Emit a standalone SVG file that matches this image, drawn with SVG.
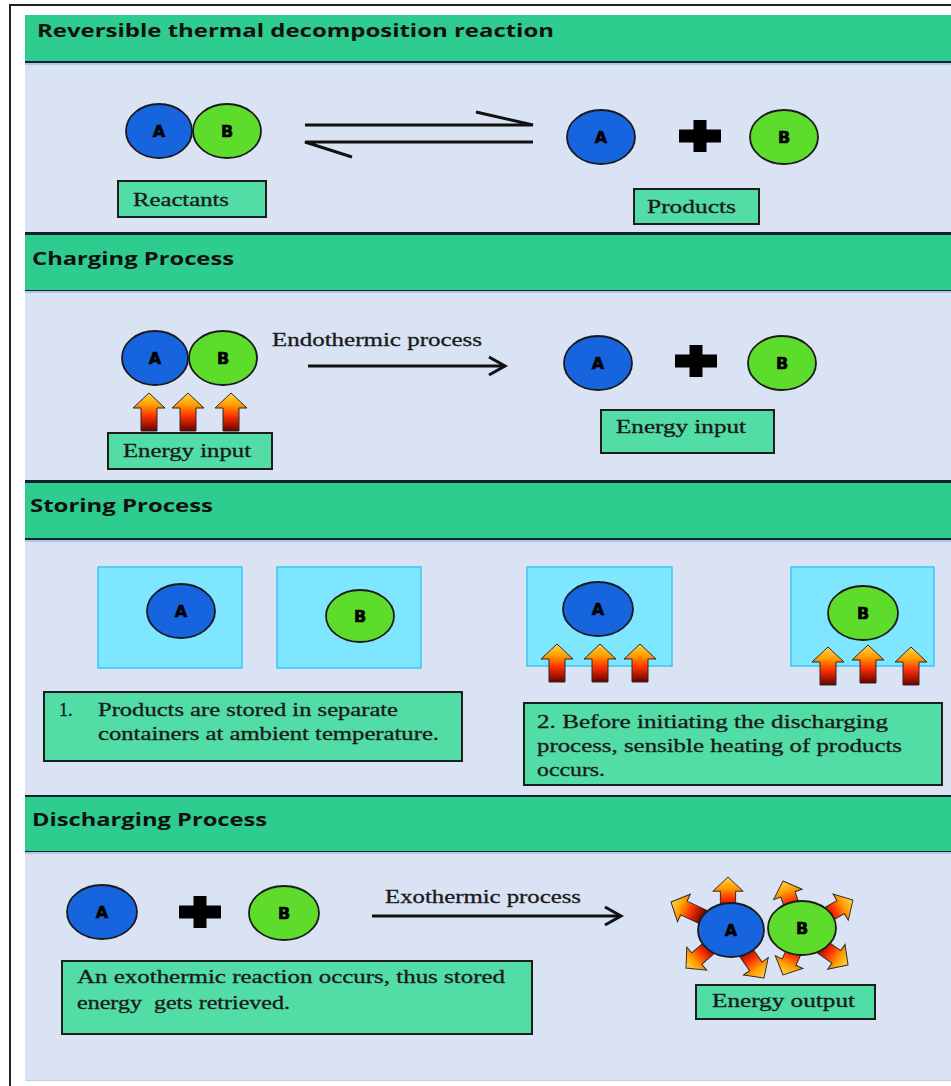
<svg xmlns="http://www.w3.org/2000/svg" width="951" height="1086" viewBox="0 0 951 1086">
<style>
.hdr{fill:#2ecc8e}
.panel{fill:#dae3f3}
.hline{fill:#0f2330}
.lline{fill:#b3c5e6}
.box{fill:#52dca6;stroke:#1d1d1d;stroke-width:2}
.ca{fill:#1764df;stroke:#1a1a1a;stroke-width:1.8}
.cb{fill:#5edc2c;stroke:#1a1a1a;stroke-width:1.8}
.lbl{font-family:"DejaVu Sans","Liberation Sans",sans-serif;font-weight:bold;font-size:16px;text-anchor:middle;fill:#000;stroke:#000;stroke-width:0.6}
.ht{font-family:"Open Sans","Liberation Sans",sans-serif;font-weight:bold;font-size:18px;fill:#111}
.st{font-family:"Liberation Serif","Times New Roman",serif;font-size:18px;fill:#1a1a1a;stroke:#1a1a1a;stroke-width:0.3}
.cont{fill:#7fe6ff;stroke:#3cc5f5;stroke-width:1.5}
.conn{stroke:#111;stroke-width:3;fill:none}
</style>
<defs>
<linearGradient id="fire" x1="0" y1="0" x2="0" y2="1">
<stop offset="0" stop-color="#ffd54a"/>
<stop offset="0.3" stop-color="#ffa000"/>
<stop offset="0.6" stop-color="#ff3300"/>
<stop offset="1" stop-color="#6a0000"/>
</linearGradient>
<path id="earrow" d="M0,0 L16,15 L8,15 L8,38 L-8,38 L-8,15 L-16,15 Z" fill="url(#fire)" stroke="#2a2a2a" stroke-width="1"/>
<path id="plus" d="M-6.5,-16 H6.5 V-6.5 H21 V6.5 H6.5 V16 H-6.5 V6.5 H-21 V-6.5 H-6.5 Z"/>
</defs>

<rect x="10" y="5" width="960" height="1100" fill="#fff" stroke="#222" stroke-width="2"/>

<g id="section1">
<rect class="hdr" x="25" y="15" width="930" height="46"/>
<rect class="hline" x="25" y="61" width="930" height="2"/>
<rect class="panel" x="25" y="63" width="930" height="170"/>
<rect class="lline" x="25" y="63" width="930" height="2"/>
<text class="ht" x="37" y="37" textLength="517" lengthAdjust="spacingAndGlyphs">Reversible thermal decomposition reaction</text>
</g>
<g id="section2">
<rect class="hline" x="25" y="232" width="930" height="3"/>
<rect class="hdr" x="25" y="235" width="930" height="56"/>
<rect class="hline" x="25" y="290" width="930" height="1"/>
<rect class="panel" x="25" y="291" width="930" height="190"/>
<rect class="lline" x="25" y="291" width="930" height="2"/>
<text class="ht" x="32" y="265" textLength="202" lengthAdjust="spacingAndGlyphs">Charging Process</text>
</g>
<g id="section3">
<rect class="hline" x="25" y="480" width="930" height="3"/>
<rect class="hdr" x="25" y="483" width="930" height="55"/>
<rect class="hline" x="25" y="538" width="930" height="2"/>
<rect class="panel" x="25" y="540" width="930" height="255"/>
<rect class="lline" x="25" y="540" width="930" height="2"/>
<text class="ht" x="30" y="512" textLength="183" lengthAdjust="spacingAndGlyphs">Storing Process</text>
</g>
<g id="section4">
<rect class="hline" x="25" y="795" width="930" height="2"/>
<rect class="hdr" x="25" y="797" width="930" height="55"/>
<rect class="hline" x="25" y="851" width="930" height="1"/>
<rect class="panel" x="25" y="852" width="930" height="228"/>
<rect class="lline" x="25" y="852" width="930" height="2"/>
<rect x="25" y="1080" width="930" height="1" fill="#c3cde0"/>
<text class="ht" x="32" y="826" textLength="235" lengthAdjust="spacingAndGlyphs">Discharging Process</text>
</g>

<g id="reactants-AB">
<ellipse class="ca" cx="159" cy="131" rx="33" ry="27"/>
<ellipse class="cb" cx="227" cy="131" rx="34" ry="27"/>
<text class="lbl" x="159" y="137">A</text>
<text class="lbl" x="227" y="137">B</text>
</g>
<g id="reactants-label">
<rect class="box" x="118" y="181" width="148" height="36"/>
<text class="st" x="133" y="206" textLength="96" lengthAdjust="spacingAndGlyphs">Reactants</text>
</g>
<g id="products1">
<ellipse class="ca" cx="601" cy="137" rx="34" ry="27"/>
<text class="lbl" x="601" y="143">A</text>
<use href="#plus" x="700" y="136"/>
<ellipse class="cb" cx="784" cy="137" rx="34" ry="27"/>
<text class="lbl" x="784" y="143">B</text>
</g>
<g id="products-label">
<rect class="box" x="634" y="189" width="125" height="35"/>
<text class="st" x="647" y="213" textLength="89" lengthAdjust="spacingAndGlyphs">Products</text>
</g>

<g id="charge-AB">
<ellipse class="ca" cx="155" cy="358" rx="33" ry="27"/>
<ellipse class="cb" cx="223" cy="358" rx="34" ry="27"/>
<text class="lbl" x="155" y="364">A</text>
<text class="lbl" x="223" y="364">B</text>
</g>
<g id="charge-heat">
<use href="#earrow" x="149" y="393"/>
<use href="#earrow" x="188" y="393"/>
<use href="#earrow" x="231" y="393"/>
</g>
<g id="charge-label">
<rect class="box" x="108" y="433" width="164" height="36"/>
<text class="st" x="123" y="457" textLength="128" lengthAdjust="spacingAndGlyphs">Energy input</text>
</g>
<g id="charge-products">
<ellipse class="ca" cx="598" cy="363" rx="34" ry="27"/>
<text class="lbl" x="598" y="369">A</text>
<use href="#plus" x="696" y="361"/>
<ellipse class="cb" cx="782" cy="363" rx="34" ry="27"/>
<text class="lbl" x="782" y="369">B</text>
</g>
<g id="charge-label2">
<rect class="box" x="601" y="410" width="173" height="43"/>
<text class="st" x="616" y="433" textLength="130" lengthAdjust="spacingAndGlyphs">Energy input</text>
</g>

<g id="store-A">
<rect class="cont" x="98" y="567" width="144" height="101"/>
<ellipse class="ca" cx="181" cy="611" rx="34" ry="27"/>
<text class="lbl" x="181" y="617">A</text>
</g>
<g id="store-B">
<rect class="cont" x="277" y="567" width="144" height="101"/>
<ellipse class="cb" cx="360" cy="616" rx="34" ry="26"/>
<text class="lbl" x="360" y="622">B</text>
</g>
<g id="store-note1">
<rect class="box" x="44" y="692" width="418" height="69"/>
<text class="st" x="59" y="716">1.</text>
<text class="st" x="98" y="716" textLength="300" lengthAdjust="spacingAndGlyphs">Products are stored in separate</text>
<text class="st" x="98" y="740" textLength="341" lengthAdjust="spacingAndGlyphs">containers at ambient temperature.</text>
</g>
<g id="heat-A">
<rect class="cont" x="527" y="567" width="145" height="99"/>
<ellipse class="ca" cx="598" cy="609" rx="35" ry="27"/>
<text class="lbl" x="598" y="615">A</text>
<use href="#earrow" x="557" y="644"/>
<use href="#earrow" x="600" y="644"/>
<use href="#earrow" x="640" y="644"/>
</g>
<g id="heat-B">
<rect class="cont" x="791" y="567" width="143" height="99"/>
<ellipse class="cb" cx="863" cy="613" rx="35" ry="27"/>
<text class="lbl" x="863" y="619">B</text>
<use href="#earrow" x="828" y="647"/>
<use href="#earrow" x="868" y="645"/>
<use href="#earrow" x="911" y="647"/>
</g>
<g id="store-note2">
<rect class="box" x="524" y="703" width="418" height="82"/>
<text class="st" x="537" y="728" textLength="351" lengthAdjust="spacingAndGlyphs">2. Before initiating the discharging</text>
<text class="st" x="537" y="752" textLength="365" lengthAdjust="spacingAndGlyphs">process, sensible heating of products</text>
<text class="st" x="537" y="776" textLength="68" lengthAdjust="spacingAndGlyphs">occurs.</text>
</g>

<g id="discharge-reactants">
<ellipse class="ca" cx="102" cy="912" rx="35" ry="27"/>
<text class="lbl" x="102" y="918">A</text>
<use href="#plus" x="200" y="912"/>
<ellipse class="cb" cx="284" cy="913" rx="35" ry="27"/>
<text class="lbl" x="284" y="919">B</text>
</g>
<g id="discharge-note">
<rect class="box" x="62" y="961" width="470" height="73"/>
<text class="st" x="77" y="983" textLength="428" lengthAdjust="spacingAndGlyphs">An exothermic reaction occurs, thus stored</text>
<text class="st" x="77" y="1009" textLength="213" lengthAdjust="spacingAndGlyphs" xml:space="preserve" style="white-space:pre">energy  gets retrieved.</text>
</g>
<g id="discharge-product">
<use href="#earrow" transform="translate(728,877) scale(0.95)"/>
<use href="#earrow" transform="translate(671,902) rotate(-65) scale(0.95)"/>
<use href="#earrow" transform="translate(686,968) rotate(-131) scale(0.95)"/>
<use href="#earrow" transform="translate(764,978) rotate(145) scale(0.95)"/>
<use href="#earrow" transform="translate(783,881) rotate(-20) scale(0.95)"/>
<use href="#earrow" transform="translate(853,900) rotate(60) scale(0.95)"/>
<use href="#earrow" transform="translate(848,965) rotate(125) scale(0.95)"/>
<use href="#earrow" transform="translate(783,975) rotate(-155) scale(0.95)"/>
<ellipse class="ca" cx="731" cy="930" rx="33" ry="27"/>
<ellipse class="cb" cx="802" cy="928" rx="34" ry="27"/>
<text class="lbl" x="731" y="936">A</text>
<text class="lbl" x="802" y="934">B</text>
</g>
<g id="discharge-label">
<rect class="box" x="696" y="985" width="179" height="34"/>
<text class="st" x="712" y="1007" textLength="143" lengthAdjust="spacingAndGlyphs">Energy output</text>
</g>

<g id="connectors">
<path class="conn" d="M305,125 H533 L476,112"/>
<path class="conn" d="M533,142 H305 L352,157"/>
<text class="st" x="272" y="346" textLength="210" lengthAdjust="spacingAndGlyphs">Endothermic process</text>
<path class="conn" d="M308,366 H504"/>
<path class="conn" d="M489,357 L505,366 L489,375"/>
<text class="st" x="385" y="903" textLength="196" lengthAdjust="spacingAndGlyphs">Exothermic process</text>
<path class="conn" d="M372,916 H620"/>
<path class="conn" d="M605,907 L621,916 L605,925"/>
</g>
</svg>
